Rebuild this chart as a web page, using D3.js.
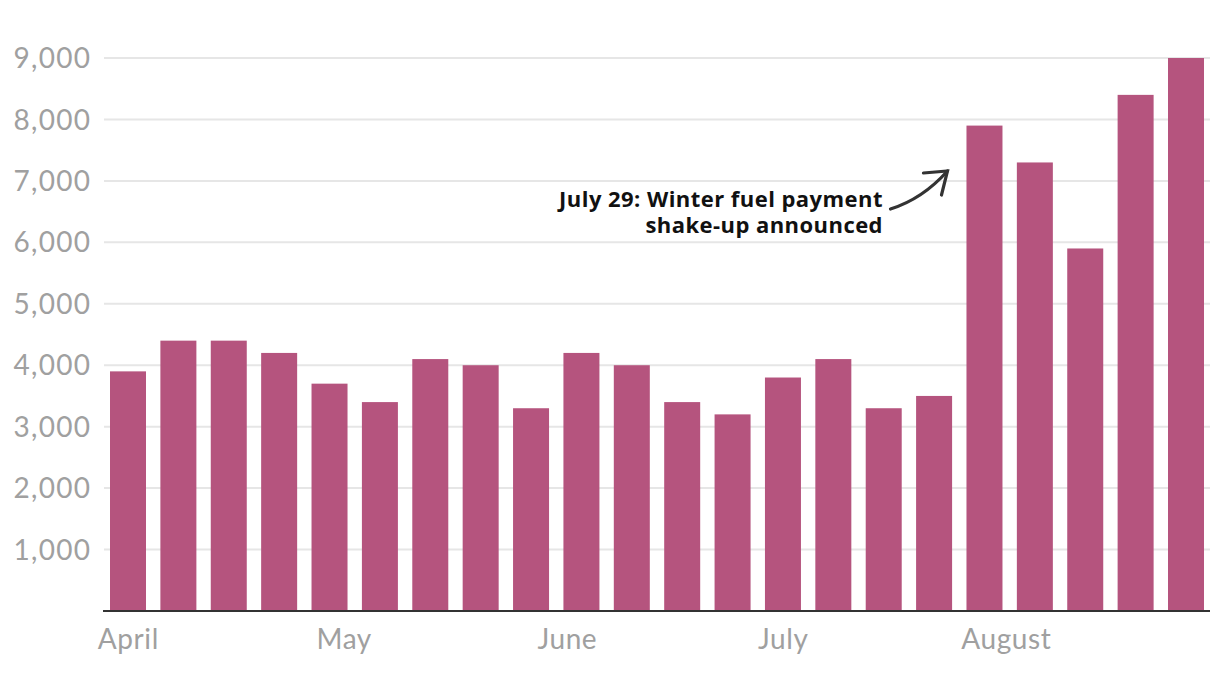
<!DOCTYPE html>
<html>
<head>
<meta charset="utf-8">
<script src="https://cdn.jsdelivr.net/npm/d3@7"></script>
<style>
  html, body { margin: 0; padding: 0; background: #fff; }
  svg { display: block; }
</style>
</head>
<body>
<svg id="chart" width="1220" height="680"></svg>
<script>
// Weekly counts, weeks starting Monday 1 April 2024
const weekStarts = [
  "2024-04-01","2024-04-08","2024-04-15","2024-04-22","2024-04-29",
  "2024-05-06","2024-05-13","2024-05-20","2024-05-27","2024-06-03",
  "2024-06-10","2024-06-17","2024-06-24","2024-07-01","2024-07-08",
  "2024-07-15","2024-07-22","2024-07-29","2024-08-05","2024-08-12",
  "2024-08-19","2024-08-26"
];
const values = [
  3900, 4400, 4400, 4200, 3700,
  3400, 4100, 4000, 3300, 4200,
  4000, 3400, 3200, 3800, 4100,
  3300, 3500, 7900, 7300, 5900,
  8400, 9000
];
const yTicks = [1000, 2000, 3000, 4000, 5000, 6000, 7000, 8000, 9000];
const monthTicks = ["2024-04-01","2024-05-01","2024-06-01","2024-07-01","2024-08-01"];
const monthLabels = ["April","May","June","July","August"];
const annotationDate = "2024-07-29";
const annotationLines = ["July 29: Winter fuel payment", "shake-up announced"];

const parse = d3.utcParse("%Y-%m-%d");
const data = weekStarts.map((d, i) => ({ date: parse(d), value: values[i] }));

const svg = d3.select("#chart");
const plotLeft = 104, plotRight = 1210, plotTop = 58, plotBottom = 611;
const barW = 36;

const x = d3.scaleUtc()
  .domain([parse(weekStarts[0]), parse(weekStarts[weekStarts.length - 1])])
  .range([128, 1186]);
const y = d3.scaleLinear().domain([0, 9000]).range([plotBottom, plotTop]);

// gridlines
svg.append("g").selectAll("line")
  .data(yTicks).join("line")
  .attr("x1", plotLeft).attr("x2", plotRight)
  .attr("y1", d => y(d)).attr("y2", d => y(d))
  .attr("stroke", "#e6e6e6").attr("stroke-width", 2);

// y labels
const fmt = d3.format(",");
svg.append("g").selectAll("text")
  .data(yTicks).join("text")
  .attr("x", 91.3).attr("y", d => y(d))
  .attr("dy", "0.36em")
  .attr("text-anchor", "end")
  .attr("fill", "#a0a0a0")
  .style("font-family", "Lato, 'Open Sans', sans-serif")
  .style("font-size", "28px")
  .style("letter-spacing", "1.3px")
  .text(d => fmt(d));

// bars
svg.append("g").selectAll("rect")
  .data(data).join("rect")
  .attr("x", d => x(d.date) - barW / 2)
  .attr("width", barW)
  .attr("y", d => y(d.value))
  .attr("height", d => y(0) - y(d.value))
  .attr("fill", "#b5547e");

// baseline
svg.append("line")
  .attr("x1", 103).attr("x2", plotRight)
  .attr("y1", y(0)).attr("y2", y(0))
  .attr("stroke", "#333").attr("stroke-width", 2.2);

// month labels
svg.append("g").selectAll("text")
  .data(monthTicks).join("text")
  .attr("x", d => x(parse(d)) + 0.3)
  .attr("y", 649)
  .attr("text-anchor", "middle")
  .attr("fill", "#a0a0a0")
  .style("font-family", "Lato, 'Open Sans', sans-serif")
  .style("font-size", "28px")
  .style("letter-spacing", "0.6px")
  .text((d, i) => monthLabels[i]);

// annotation
const ax = x(parse(annotationDate));
const ann = svg.append("text")
  .attr("text-anchor", "end")
  .attr("fill", "#111")
  .style("font-family", "'Open Sans', sans-serif")
  .style("font-weight", "700")
  .style("font-size", "22px")
  .style("letter-spacing", "0.45px");
annotationLines.forEach((t, i) => {
  ann.append("tspan").attr("x", ax - 101.5).attr("y", 206.5 + i * 26.5).text(t);
});

// arrow
const sx = ax - 94, sy = 209, ex = ax - 37, ey = 171;
svg.append("path")
  .attr("d", `M${sx},${sy} Q${ax - 62},${199} ${ex},${ey}`)
  .attr("fill", "none").attr("stroke", "#333").attr("stroke-width", 3.2)
  .attr("stroke-linecap", "round");
svg.append("path")
  .attr("d", `M${ax - 61},${173} L${ex},${ey} L${ax - 43},${195}`)
  .attr("fill", "none").attr("stroke", "#333").attr("stroke-width", 3.2)
  .attr("stroke-linecap", "round").attr("stroke-linejoin", "miter");
</script>
</body>
</html>
